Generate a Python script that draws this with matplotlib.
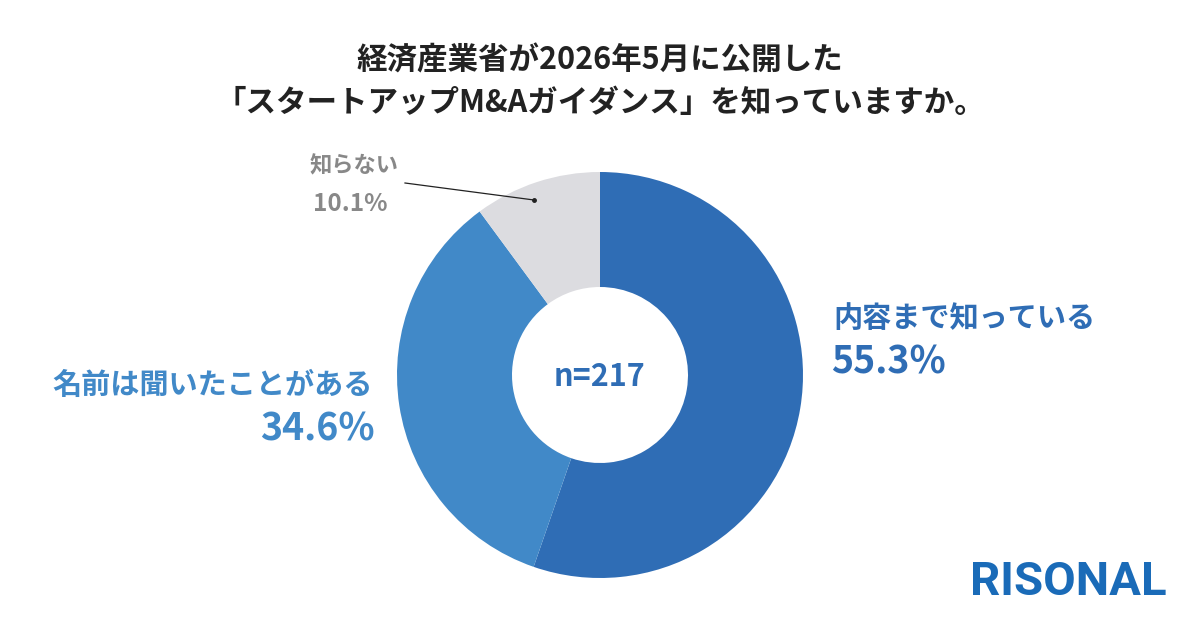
import matplotlib
matplotlib.use('Agg')
import matplotlib.pyplot as plt

plt.rcParams['font.family'] = ['Noto Sans CJK JP', 'DejaVu Sans']

labels = ['内容まで知っている', '名前は聞いたことがある', '知らない']
values = [55.3, 34.6, 10.1]
colors = ['#2F6DB5', '#4189C8', '#DCDCE0']
n_total = 217
title = '経済産業省が2026年5月に公開した\n「スタートアップM&Aガイダンス」を知っていますか。'

W, H = 1200, 628
fig = plt.figure(figsize=(12, 6.28), dpi=100, facecolor='white')
ax = fig.add_axes([0, 0, 1, 1])
ax.set_xlim(0, W); ax.set_ylim(0, H); ax.axis('off')

cx, cy, r = 600, H - 375, 203
ax.pie(values, colors=colors, startangle=90, counterclock=False,
       center=(cx, cy), radius=r, wedgeprops=dict(width=r - 88, linewidth=0))
ax.set_xlim(0, W); ax.set_ylim(0, H); ax.set_aspect('equal')

ax.text(600, H - 60, title.split('\n')[0], ha='center', va='center',
        fontsize=22, fontweight='bold', color='#222222')
ax.text(600, H - 103, title.split('\n')[1], ha='center', va='center',
        fontsize=22, fontweight='bold', color='#222222')

ax.text(cx, cy - 2, f'n={n_total}', ha='center', va='center',
        fontsize=22, fontweight='bold', color='#2F6DB5')

# right label
ax.text(833, H - 318, labels[0], ha='left', va='center', fontsize=21,
        fontweight='bold', color='#2F6DB5')
ax.text(831, H - 362, f'{values[0]}%', ha='left', va='center', fontsize=27,
        fontweight='bold', color='#2F6DB5')
# left label
ax.text(373, H - 385, labels[1], ha='right', va='center', fontsize=21,
        fontweight='bold', color='#4189C8')
ax.text(375, H - 429, f'{values[1]}%', ha='right', va='center', fontsize=27,
        fontweight='bold', color='#4189C8')
# small label
ax.text(310, H - 166, labels[2], ha='left', va='center', fontsize=16,
        fontweight='bold', color='#888888')
ax.text(313, H - 204, f'{values[2]}%', ha='left', va='center', fontsize=17.5,
        fontweight='bold', color='#888888')
ax.plot([405, 534], [H - 183, H - 200], color='#222222', lw=0.9)
ax.plot([534], [H - 200], 'o', color='#222222', ms=2.5)

ax.text(1167, H - 582, 'RISONAL', ha='right', va='center', fontsize=34,
        fontweight='bold', color='#1A6BB8', family='Roboto')

fig.savefig('out.png', dpi=100, facecolor='white')
